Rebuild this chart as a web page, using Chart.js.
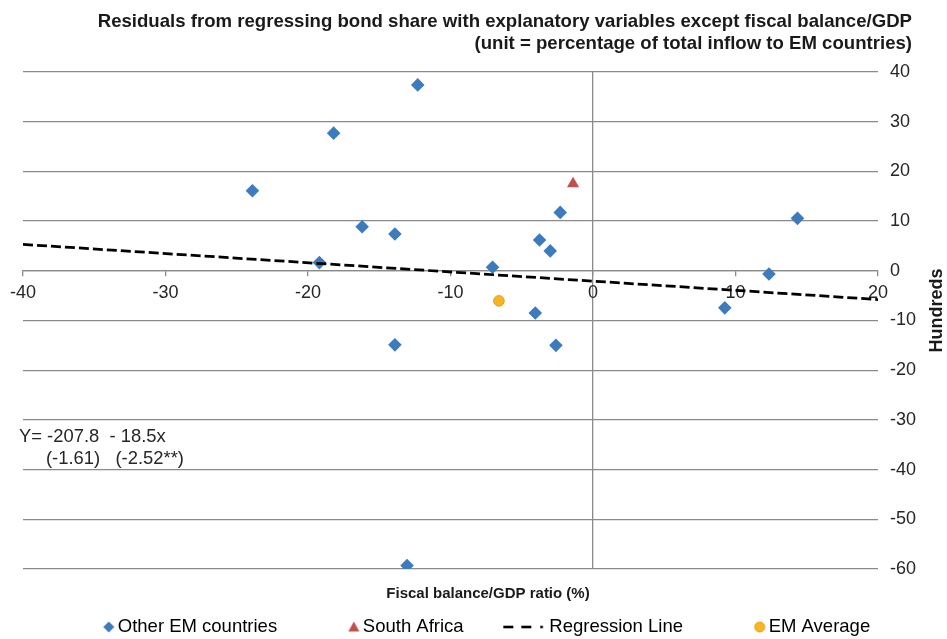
<!DOCTYPE html>
<html>
<head>
<meta charset="utf-8">
<title>Residuals vs fiscal balance</title>
<script src="https://cdn.jsdelivr.net/npm/chart.js@4.4.1/dist/chart.umd.min.js"></script>
<style>
  html, body { margin: 0; padding: 0; background: #fff; overflow: hidden; }
  #wrap { position: relative; width: 947px; height: 639px; }
</style>
</head>
<body>
<div id="wrap"><canvas id="myChart"></canvas></div>
<script>
// DATA

var otherEmX = [-23.9, -18.2, -12.3, -16.2, -13.9, -19.2, -7.05, -2.3, -3.75, -3.0, 14.35, 12.35, 9.25, -4.05, -2.6, -13.9, -13.05];
var otherEmY = [16.1, 27.7, 37.4, 8.85, 7.4, 1.65, 0.7, 11.75, 6.2, 4.0, 10.55, -0.65, -7.45, -8.5, -15.0, -14.9, -59.3];

var southAfricaX = [-1.4];
var southAfricaY = [17.5];

var emAverageX = [-6.6];
var emAverageY = [-6.05];

var regressionX = [-40, 20];
var regressionY = [5.32, -5.78];

var xTickValues = [-40, -30, -20, -10, 0, 10, 20];
var yTickValues = [-60, -50, -40, -30, -20, -10, 0, 10, 20, 30, 40];

var seriesNames = ['Other EM countries', 'South Africa', 'Regression Line', 'EM Average'];
var titleLines = [
  'Residuals from regressing bond share with explanatory variables except fiscal balance/GDP',
  '(unit = percentage of total inflow to EM countries)'
];
var xTitle = 'Fiscal balance/GDP ratio (%)';
var yTitle = 'Hundreds';
var equationLines = ['Y= -207.8  - 18.5x', '(-1.61)   (-2.52**)'];


// STYLE

var FONT = "'Liberation Sans', Arial, sans-serif";
var TEXT = '#262626';
var GRID = '#8a8a8a';
var BLUE = '#3d7bbf';
var RED = '#c0504d';
var ORANGE = '#f9b424';

var legendFont = 18.5;
var legendBox = 27.7;
var legendPad = 48.75;

Chart.defaults.font.family = FONT;
Chart.defaults.color = TEXT;

function toPoints(xs, ys) {
  return xs.map(function(x, i) { return { x: x, y: ys[i] }; });
}

// legend symbols as small canvases, drawn just left of the label text
function legendSymbol(draw) {
  var c = document.createElement('canvas');
  var w = Math.round(legendBox + 120);
  c.width = w;
  c.height = 20;
  var g = c.getContext('2d');
  var textX = w / 2 + legendBox / 2 + legendFont / 2;
  draw(g, textX, 10);
  return c;
}

var legendSymbols = [
  legendSymbol(function(g, tx, cy) {
    var cx = tx - 9;
    g.fillStyle = BLUE;
    g.beginPath();
    g.moveTo(cx, cy - 5.5); g.lineTo(cx + 5.5, cy); g.lineTo(cx, cy + 5.5); g.lineTo(cx - 5.5, cy);
    g.closePath();
    g.fill();
  }),
  legendSymbol(function(g, tx, cy) {
    var cx = tx - 9;
    g.fillStyle = RED;
    g.beginPath();
    g.moveTo(cx, cy - 5.5); g.lineTo(cx + 5.5, cy + 4.5); g.lineTo(cx - 5.5, cy + 4.5);
    g.closePath();
    g.fill();
  }),
  legendSymbol(function(g, tx, cy) {
    g.fillStyle = '#000';
    g.fillRect(tx - 46, cy - 1.3, 10, 2.6);
    g.fillRect(tx - 28, cy - 1.3, 10, 2.6);
    g.fillRect(tx - 9, cy - 1.3, 2.5, 2.6);
  }),
  legendSymbol(function(g, tx, cy) {
    g.fillStyle = ORANGE;
    g.strokeStyle = '#e59f12';
    g.lineWidth = 1;
    g.beginPath();
    g.arc(tx - 9, cy, 5, 0, Math.PI * 2);
    g.fill();
    g.stroke();
  })
];

// titles, axis names and the regression equation
var textPlugin = {
  id: 'chartTexts',
  afterDraw: function(chart) {
    var c = chart.ctx;
    var area = chart.chartArea;
    c.save();
    c.fillStyle = '#1a1a1a';
    c.textBaseline = 'alphabetic';

    c.font = 'bold 18.6px ' + FONT;
    c.textAlign = 'right';
    c.fillText(titleLines[0], 912, 27);
    c.fillText(titleLines[1], 912, 49);

    c.font = 'bold 15px ' + FONT;
    c.textAlign = 'center';
    c.fillText(xTitle, 488, 598);

    c.fillStyle = TEXT;
    c.font = '18.4px ' + FONT;
    c.textAlign = 'left';
    c.fillText(equationLines[0], 19, 442);
    c.fillText(equationLines[1], 46, 464);

    c.fillStyle = '#1a1a1a';
    c.font = 'bold 18px ' + FONT;
    c.translate(937, (area.top + area.bottom) / 2 - 10);
    c.rotate(-Math.PI / 2);
    c.textAlign = 'center';
    c.textBaseline = 'middle';
    c.fillText(yTitle, 0, 0);
    c.restore();
  }
};


// CHART

var ctx = document.getElementById('myChart').getContext('2d');

var chart = new Chart(ctx, {
  type: 'scatter',
  data: {
    datasets: [{
      label: seriesNames[0],
      data: toPoints(otherEmX, otherEmY),
      pointStyle: 'rectRot',
      pointRadius: 6.8,
      pointHoverRadius: 6.8,
      backgroundColor: BLUE,
      borderColor: BLUE,
      borderWidth: 0,
      order: 1
    },
    {
      label: seriesNames[1],
      data: toPoints(southAfricaX, southAfricaY),
      pointStyle: 'triangle',
      pointRadius: 7,
      pointHoverRadius: 7,
      backgroundColor: RED,
      borderColor: RED,
      borderWidth: 0,
      order: 1
    },
    {
      type: 'line',
      label: seriesNames[2],
      data: toPoints(regressionX, regressionY),
      borderColor: '#000',
      borderWidth: 2.75,
      borderDash: [10, 4],
      pointRadius: 0,
      fill: false,
      order: 0
    },
    {
      label: seriesNames[3],
      data: toPoints(emAverageX, emAverageY),
      pointStyle: 'circle',
      pointRadius: 5.3,
      pointHoverRadius: 5.3,
      backgroundColor: ORANGE,
      borderColor: '#e59f12',
      borderWidth: 1,
      order: 1
    }]
  },
  options: {
    responsive: true,
    maintainAspectRatio: false,
    animation: false,
    devicePixelRatio: 1,
    layout: {
      padding: { top: 72, left: 23, right: 19, bottom: -7.25 }
    },
    scales: {
      x: {
        type: 'linear',
        position: { y: 0 },
        min: xTickValues[0],
        max: xTickValues[xTickValues.length - 1],
        ticks: { stepSize: 10, font: { size: 18 }, color: TEXT, padding: 6 },
        grid: {
          color: function(c) { return c.tick && c.tick.value === 0 ? GRID : 'rgba(0,0,0,0)'; },
          tickColor: GRID,
          tickLength: 5,
          lineWidth: 1.3
        },
        border: { color: GRID, width: 1.3 }
      },
      y: {
        type: 'linear',
        position: 'right',
        min: yTickValues[0],
        max: yTickValues[yTickValues.length - 1],
        ticks: { stepSize: 10, font: { size: 18 }, color: TEXT, padding: 12 },
        grid: { color: GRID, lineWidth: 1.3, drawTicks: false },
        border: { display: false }
      }
    },
    plugins: {
      title: { display: false },
      tooltip: { enabled: false },
      legend: {
        position: 'bottom',
        labels: {
          usePointStyle: true,
          pointStyleWidth: legendBox,
          padding: legendPad,
          font: { size: legendFont },
          color: TEXT,
          generateLabels: function(chart) {
            return chart.data.datasets.map(function(ds, i) {
              return {
                text: ds.label,
                pointStyle: legendSymbols[i],
                fillStyle: 'rgba(0,0,0,0)',
                strokeStyle: 'rgba(0,0,0,0)',
                lineWidth: 0,
                hidden: false,
                datasetIndex: i
              };
            });
          }
        }
      }
    }
  },
  plugins: [textPlugin]
});
</script>
</body>
</html>
